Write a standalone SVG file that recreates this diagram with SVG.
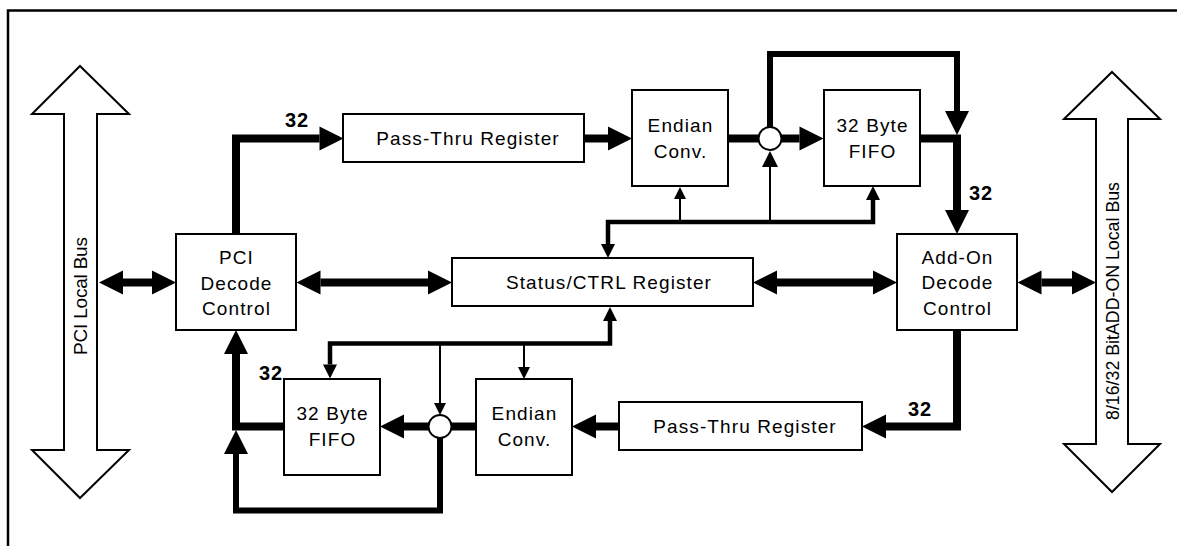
<svg xmlns="http://www.w3.org/2000/svg" width="1177" height="546" viewBox="0 0 1177 546">
  <style>
    .box { fill: #fff; stroke: #000; stroke-width: 2; }
    .lbl { font-family: "Liberation Sans", Arial, sans-serif; font-size: 19px; letter-spacing: 1.1px; fill: #000; text-anchor: middle; }
    .width { font-family: "Liberation Sans", Arial, sans-serif; font-size: 20px; font-weight: bold; letter-spacing: 1px; fill: #000; }
    .buslbl { font-family: "Liberation Sans", Arial, sans-serif; font-size: 19px; fill: #000; text-anchor: middle; }
    .bus { fill: #fff; stroke: #000; stroke-width: 2; stroke-linejoin: miter; }
    .data { fill: none; stroke: #000; stroke-width: 8; stroke-linejoin: miter; }
    .loop { fill: none; stroke: #000; stroke-width: 6; stroke-linejoin: miter; }
    .ctrl { fill: none; stroke: #000; stroke-width: 4.5; stroke-linejoin: miter; }
    .sig { fill: none; stroke: #000; stroke-width: 2; }
    .tap { fill: #fff; stroke: #000; stroke-width: 2; }
  </style>
  <defs>
    <marker id="ahBig" markerUnits="userSpaceOnUse" markerWidth="24" markerHeight="24" refX="0" refY="12" orient="auto-start-reverse" overflow="visible">
      <path d="M0,0 L24,12 L0,24 Z" fill="#000"/>
    </marker>
    <marker id="ahMid" markerUnits="userSpaceOnUse" markerWidth="14" markerHeight="14" refX="0" refY="7" orient="auto-start-reverse" overflow="visible">
      <path d="M0,0 L14,7 L0,14 Z" fill="#000"/>
    </marker>
    <marker id="ahThin" markerUnits="userSpaceOnUse" markerWidth="12" markerHeight="12" refX="0" refY="6" orient="auto-start-reverse" overflow="visible">
      <path d="M0,0 L12,6 L0,12 Z" fill="#000"/>
    </marker>
    <marker id="ahTap" markerUnits="userSpaceOnUse" markerWidth="16" markerHeight="16" refX="0" refY="8" orient="auto-start-reverse" overflow="visible">
      <path d="M0,0 L16,8 L0,16 Z" fill="#000"/>
    </marker>
  </defs>

  <!-- outer frame -->
  <rect x="8" y="10.5" width="1200" height="600" fill="none" stroke="#000" stroke-width="2.5"/>

  <!-- hollow bus arrows -->
  <g id="pci-bus">
    <polygon class="bus" points="80,66 129,114 97,114 97,450 129,450 80,498 32,450 64,450 64,114 32,114"/>
    <text class="buslbl" transform="translate(87,296) rotate(-90)" textLength="118" lengthAdjust="spacing">PCI Local Bus</text>
  </g>
  <g id="addon-bus">
    <polygon class="bus" points="1112,72 1160,119 1128,119 1128,444 1160,444 1112,492 1064,444 1096,444 1096,119 1064,119"/>
    <text class="buslbl" transform="translate(1119,301) rotate(-90)" textLength="238" lengthAdjust="spacingAndGlyphs">8/16/32 BitADD-ON Local Bus</text>
  </g>

  <!-- connectors -->
  <g id="connectors">
    <!-- data paths, 32 bit -->
    <path class="data" d="M236,234 V138.5 H319.5" marker-end="url(#ahBig)"/>
    <path class="data" d="M584,138.5 H608" marker-end="url(#ahBig)"/>
    <path class="data" d="M728,138.5 H758.5"/>
    <path class="data" d="M781.5,138.5 H799.5" marker-end="url(#ahBig)"/>
    <path class="data" d="M920,138.5 H957 V210" marker-end="url(#ahBig)"/>
    <path class="loop" d="M770,127 V54 H957 V111" marker-end="url(#ahBig)"/>

    <path class="data" d="M957,330 V426.5 H886" marker-end="url(#ahBig)"/>
    <path class="data" d="M619,426.5 H596" marker-end="url(#ahBig)"/>
    <path class="data" d="M476,426.5 H451.5"/>
    <path class="data" d="M428.5,426.5 H404" marker-end="url(#ahBig)"/>
    <path class="data" d="M284,426.5 H236 V354" marker-end="url(#ahBig)"/>
    <path class="loop" d="M440,438 V510.5 H236 V454" marker-end="url(#ahBig)"/>

    <!-- bidirectional links -->
    <path class="data" d="M123,282.5 H152" marker-start="url(#ahBig)" marker-end="url(#ahBig)"/>
    <path class="data" d="M320.5,282.5 H428" marker-start="url(#ahBig)" marker-end="url(#ahBig)"/>
    <path class="data" d="M777,282.5 H873" marker-start="url(#ahBig)" marker-end="url(#ahBig)"/>
    <path class="data" d="M1041.5,282.5 H1072" marker-start="url(#ahBig)" marker-end="url(#ahBig)"/>

    <!-- control lines from Status/CTRL -->
    <path class="ctrl" d="M608,244 V222 H873 V200" marker-start="url(#ahMid)" marker-end="url(#ahMid)"/>
    <path class="sig" d="M680,222 V199" marker-end="url(#ahThin)"/>
    <path class="sig" d="M770,222 V167" marker-end="url(#ahTap)"/>

    <path class="ctrl" d="M610,321 V343.5 H330 V364.5" marker-start="url(#ahMid)" marker-end="url(#ahMid)"/>
    <path class="sig" d="M440,343.5 V403" marker-end="url(#ahThin)"/>
    <path class="sig" d="M524,343.5 V367" marker-end="url(#ahThin)"/>

    <!-- merge points -->
    <circle class="tap" cx="770" cy="138.5" r="11.5"/>
    <circle class="tap" cx="440" cy="426.5" r="11.5"/>

    <!-- bus width labels -->
    <text class="width" x="285" y="127">32</text>
    <text class="width" x="969" y="200">32</text>
    <text class="width" x="259" y="380">32</text>
    <text class="width" x="908" y="416">32</text>
  </g>

  <!-- blocks -->
  <g id="pci-decode">
    <rect class="box" x="176" y="234" width="120" height="96"/>
    <text class="lbl" x="236.5" y="264">PCI</text>
    <text class="lbl" x="236.5" y="289.5">Decode</text>
    <text class="lbl" x="236.5" y="315">Control</text>
  </g>
  <g id="pass-thru-out">
    <rect class="box" x="343" y="114" width="241" height="48"/>
    <text class="lbl" x="468" y="145">Pass-Thru Register</text>
  </g>
  <g id="endian-out">
    <rect class="box" x="632" y="90" width="96" height="96"/>
    <text class="lbl" x="680.5" y="132">Endian</text>
    <text class="lbl" x="680.5" y="158">Conv.</text>
  </g>
  <g id="fifo-out">
    <rect class="box" x="824" y="90" width="96" height="96"/>
    <text class="lbl" x="872.5" y="132">32 Byte</text>
    <text class="lbl" x="872.5" y="158">FIFO</text>
  </g>
  <g id="status-ctrl">
    <rect class="box" x="452" y="258" width="301" height="48"/>
    <text class="lbl" x="609" y="289">Status/CTRL Register</text>
  </g>
  <g id="addon-decode">
    <rect class="box" x="897" y="234" width="120" height="96"/>
    <text class="lbl" x="957.5" y="263.5">Add-On</text>
    <text class="lbl" x="957.5" y="289">Decode</text>
    <text class="lbl" x="957.5" y="315">Control</text>
  </g>
  <g id="pass-thru-in">
    <rect class="box" x="619" y="402" width="243" height="48"/>
    <text class="lbl" x="745" y="433">Pass-Thru Register</text>
  </g>
  <g id="endian-in">
    <rect class="box" x="476" y="379" width="96" height="96"/>
    <text class="lbl" x="524.5" y="420">Endian</text>
    <text class="lbl" x="524.5" y="446">Conv.</text>
  </g>
  <g id="fifo-in">
    <rect class="box" x="284" y="379" width="96" height="96"/>
    <text class="lbl" x="332.5" y="420">32 Byte</text>
    <text class="lbl" x="332.5" y="446">FIFO</text>
  </g>
</svg>
